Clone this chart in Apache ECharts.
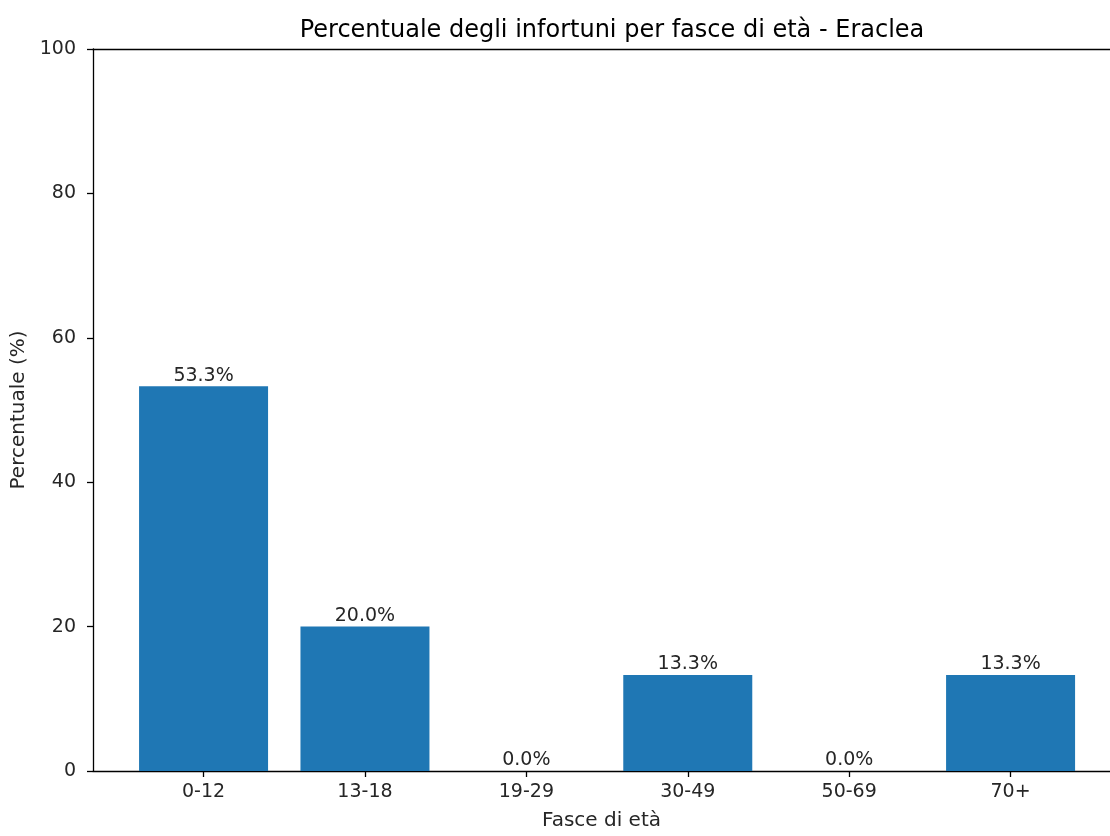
<!DOCTYPE html>
<html>
<head>
<meta charset="utf-8">
<script src="https://cdn.jsdelivr.net/npm/echarts@6/dist/echarts.min.js"></script>
<style>
html,body{margin:0;padding:0;background:#fff;}
#chart{width:1110px;height:836px;}
</style>
</head>
<body>
<div id="chart"></div>
<script>
const categories = ["0-12", "13-18", "19-29", "30-49", "50-69", "70+"];
const percentages = [53.3, 20.0, 0.0, 13.3, 0.0, 13.3];
const yTicks = [0, 20, 40, 60, 80, 100];

const chart = echarts.init(document.getElementById('chart'), null, {renderer: 'canvas'});
const FONT = 'DejaVu Sans';
const TXT = '#262626';
const idx = categories.map((c, i) => i);

chart.setOption({
  animation: false,
  backgroundColor: '#ffffff',
  title: {
    text: 'Percentuale degli infortuni per fasce di età - Eraclea',
    left: 607, top: 14, textAlign: 'center',
    textStyle: {fontFamily: FONT, fontSize: 24, fontWeight: 'normal', color: '#000'}
  },
  grid: {left: 93, top: 49, right: 0, bottom: 61, containLabel: false},
  xAxis: [{
    type: 'value', min: -0.685, max: 5.616,
    splitLine: {show: false},
    axisLine: {show: true, onZero: false, lineStyle: {color: '#000', width: 1.3}},
    axisTick: {show: true, length: 6, inside: false, customValues: idx, lineStyle: {color: '#000', width: 1.3}},
    axisLabel: {show: true, customValues: idx, margin: 12, fontFamily: FONT, fontSize: 19, color: TXT,
      formatter: v => categories[Math.round(v)] ?? ''},
    name: 'Fasce di età', nameLocation: 'middle', nameGap: 40,
    nameTextStyle: {fontFamily: FONT, fontSize: 20, color: TXT}
  }, {
    type: 'value', position: 'top', min: -0.685, max: 5.616,
    splitLine: {show: false},
    axisLine: {show: true, onZero: false, lineStyle: {color: '#000', width: 1.3}},
    axisTick: {show: false}, axisLabel: {show: false}
  }],
  yAxis: {
    type: 'value', min: 0, max: 100, interval: 20,
    splitLine: {show: false},
    axisLine: {show: true, onZero: false, lineStyle: {color: '#000', width: 1.3}},
    axisTick: {show: true, length: 6, lineStyle: {color: '#000', width: 1.3}},
    axisLabel: {margin: 17, fontFamily: FONT, fontSize: 19, color: TXT,
      customValues: yTicks},
    name: 'Percentuale (%)', nameLocation: 'middle', nameGap: 60, nameRotate: 90,
    nameTextStyle: {fontFamily: FONT, fontSize: 20, color: TXT}
  },
  series: [{
    type: 'bar',
    xAxisIndex: 0,
    data: percentages.map((v, i) => [i, v]),
    barWidth: 129,
    itemStyle: {color: '#1f77b4'},
    label: {
      show: true, position: 'top', distance: 1,
      fontFamily: FONT, fontSize: 19, color: TXT,
      formatter: p => p.value[1].toFixed(1) + '%'
    }
  }]
});
</script>
</body>
</html>
